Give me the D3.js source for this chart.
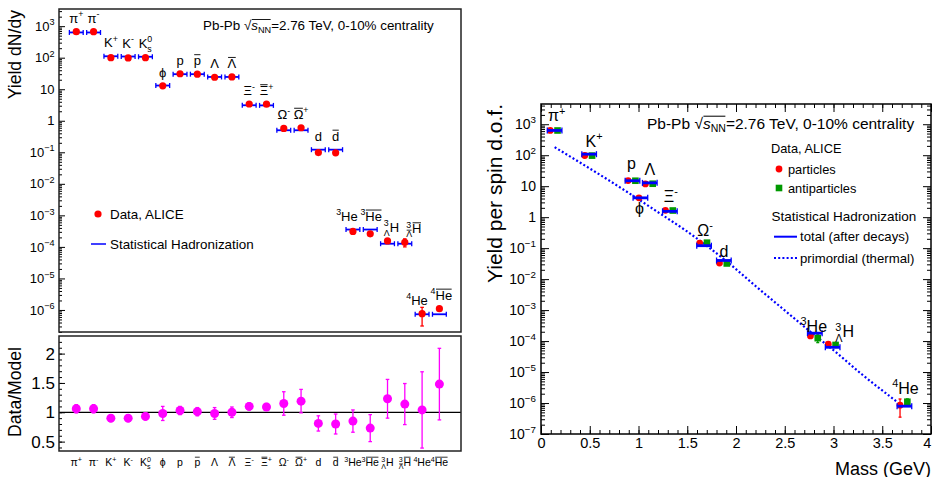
<!DOCTYPE html>
<html>
<head>
<meta charset="utf-8">
<script src="https://cdn.jsdelivr.net/npm/d3@7"></script>
<style>
  body { margin: 0; background: #fff; }
  svg text { font-family: "Liberation Sans", Arial, Helvetica, sans-serif; fill: #000; }
</style>
</head>
<body>
<div id="chart"></div>
<script>
// ---------- left plot: yields per species, 0-10% Pb-Pb ----------
var species = ["pi+", "pi-", "K+", "K-", "K0s", "phi", "p", "pbar", "Lambda", "Lambdabar",
  "Xi-", "Xibar+", "Omega-", "Omegabar+", "d", "dbar", "3He", "3Hebar", "3LH", "3LHbar", "4He", "4Hebar"];
// label parts: [text, kind, overline group, stacked subscript, italic]
var speciesLabels = [
  [["π"], ["+", "sup"]],
  [["π"], ["-", "sup"]],
  [["K"], ["+", "sup"]],
  [["K"], ["-", "sup"]],
  [["K"], ["0", "ss", 0, "s"]],
  [["ϕ"]],
  [["p"]],
  [["p", "n", 1]],
  [["Λ"]],
  [["Λ", "n", 1]],
  [["Ξ"], ["-", "sup"]],
  [["Ξ", "n", 1], ["+", "sup"]],
  [["Ω"], ["-", "sup"]],
  [["Ω", "n", 1], ["+", "sup"]],
  [["d"]],
  [["d", "n", 1]],
  [["3", "sup"], ["He"]],
  [["3", "sup"], ["He", "n", 1]],
  [["3", "ss", 0, "Λ"], ["H"]],
  [["3", "ss", 1, "Λ"], ["H", "n", 2]],
  [["4", "sup"], ["He"]],
  [["4", "sup"], ["He", "n", 1]]
];
var yields = [670, 668, 100, 98, 100, 12.8, 31, 30, 24, 24.5, 3.4, 3.35, 0.57, 0.6, 0.098, 0.096,
  3.1e-4, 2.6e-4, 1.55e-4, 1.4e-4, 7.6e-7, 1.1e-6];
var yieldErr = [25, 25, 6, 6, 6, 1.5, 2.2, 2.2, 2.5, 2.5, 0.2, 0.2, 0.08, 0.08, 0.015, 0.015,
  0.35e-4, 0.6e-4, 0.35e-4, 0.4e-4, 4.5e-7, 2.5e-7];
var modelYields = [632, 630, 111, 109, 107, 13.1, 30, 30, 24.5, 24.5, 3.1, 3.07, 0.5, 0.5, 0.121, 0.121,
  3.55e-4, 3.55e-4, 1.26e-4, 1.26e-4, 7.3e-7, 7.3e-7];
var ratios = [1.06, 1.06, 0.90, 0.90, 0.93, 0.98, 1.03, 1.01, 0.98, 1.0, 1.10, 1.09, 1.15, 1.19,
  0.81, 0.80, 0.85, 0.73, 1.23, 1.14, 1.04, 1.48];
var ratioErr = [0.07, 0.07, 0.06, 0.06, 0.06, 0.12, 0.07, 0.07, 0.1, 0.09, 0.06, 0.06, 0.2, 0.2,
  0.13, 0.17, 0.19, 0.23, 0.33, 0.35, 0.65, 0.61];
var ratioTicks = [0.5, 1, 1.5, 2];

// ---------- right plot: yield per spin d.o.f. vs mass ----------
var massLabels = [
  [["π"], ["+", "sup"]],
  [["K"], ["+", "sup"]],
  [["p"]],
  [["ϕ"]],
  [["Λ"]],
  [["Ξ"], ["-", "sup"]],
  [["Ω"], ["-", "sup"]],
  [["d"]],
  [["3", "sup"], ["He"]],
  [["3", "ss", 0, "Λ"], ["H"]],
  [["4", "sup"], ["He"]]
];
var masses = [0.1396, 0.4937, 0.9383, 1.0195, 1.1157, 1.3217, 1.6725, 1.8756, 2.8084, 2.9913, 3.7274];
var partYield = [630, 98, 15.2, 4.2, 11.8, 1.66, 0.146, 0.033, 1.47e-4, 7.9e-5, 8.5e-7];
var partErr = [0, 0, 0, 0, 0, 0, 0.01, 0.003, 0.1e-4, 0.8e-5, 5e-7];
var antiYield = [628, 97, 15.0, null, 12.0, 1.64, 0.15, 0.032, 1.24e-4, 7.5e-5, 1.1e-6];
var antiErr = [0, 0, 0, null, 0, 0, 0.01, 0.003, 0.35e-4, 1e-5, 2.6e-7];
var totalModel = [630, 108, 15, 4.2, 12.8, 1.54, 0.12, 0.040, 1.8e-4, 6.3e-5, 7.9e-7];
var thermalMass = [0.14, 0.40, 0.67, 0.94, 1.21, 1.49, 1.69, 1.93, 2.20, 2.47, 2.74, 3.02, 3.29, 3.66];
var thermalYield = [182, 58, 17.4, 5.0, 1.38, 0.36, 0.126, 0.032, 6.0e-3, 1.17e-3, 2.3e-4, 4.5e-5, 8.5e-6, 1.05e-6];
var massTicks = [0, 0.5, 1, 1.5, 2, 2.5, 3, 3.5, 4];

var RED = "#ff0000", BLUE = "#0000ff", GREEN = "#009900", MAGENTA = "#ff00ff";

var svg = d3.select("#chart").append("svg").attr("width", 934).attr("height", 477);

// rich text with superscripts, subscripts, stacked indices and overlines
function rich(g, x, y, parts, fs, anchor) {
  var t = g.append("text").attr("x", x).attr("y", y)
    .attr("text-anchor", anchor || "middle").style("font-size", fs + "px");
  var cur = 0, idx = 0, padX = 0, ov = [];
  parts.forEach(function (p) {
    var kind = p[1] || "n", off = 0, size = fs;
    if (kind == "sup" || kind == "ss") { off = -0.42 * fs; size = 0.68 * fs; }
    if (kind == "sub") { off = 0.25 * fs; size = 0.68 * fs; }
    var ts = t.append("tspan").attr("dx", padX).attr("dy", off - cur)
      .style("font-size", size + "px").text(p[0]);
    if (p[4]) ts.style("font-style", "italic");
    padX = 0; cur = off;
    if (kind == "ss") {
      var w1 = ts.node().getComputedTextLength();
      var off2 = 0.3 * fs;
      var ts2 = t.append("tspan").attr("dx", -w1).attr("dy", off2 - cur)
        .style("font-size", size + "px").text(p[3]);
      var w2 = ts2.node().getComputedTextLength();
      padX = Math.max(0, w1 - w2);
      cur = off2;
      if (p[2]) ov.push([idx + p[0].length, p[3].length, p[2]]);
      idx += p[0].length + p[3].length;
    } else {
      if (p[2]) ov.push([idx, p[0].length, p[2]]);
      idx += p[0].length;
    }
  });
  var node = t.node(), lines = {};
  ov.forEach(function (o) {
    for (var i = o[0]; i < o[0] + o[1]; i++) {
      var e = node.getExtentOfChar(i);
      var L = lines[o[2]] || (lines[o[2]] = { x1: 1e9, x2: -1e9, y: 1e9, h: 0 });
      L.x1 = Math.min(L.x1, e.x); L.x2 = Math.max(L.x2, e.x + e.width);
      L.y = Math.min(L.y, e.y + 0.1 * e.height); L.h = Math.max(L.h, e.height);
    }
  });
  Object.keys(lines).forEach(function (k) {
    var L = lines[k];
    g.append("line").attr("x1", L.x1 + 0.5).attr("x2", L.x2 - 0.5)
      .attr("y1", L.y).attr("y2", L.y)
      .attr("stroke", "#000").attr("stroke-width", Math.max(0.8, L.h * 0.06));
  });
  return t;
}

function minorLog(dom) {
  var v = [];
  for (var e = Math.floor(Math.log10(dom[0])); e <= Math.ceil(Math.log10(dom[1])); e++)
    for (var k = 2; k <= 9; k++) {
      var val = k * Math.pow(10, e);
      if (val >= dom[0] && val <= dom[1]) v.push(val);
    }
  return v;
}
function decades(dom) {
  var v = [];
  for (var e = Math.ceil(Math.log10(dom[0]) - 1e-9); e <= Math.floor(Math.log10(dom[1]) + 1e-9); e++) v.push(Math.pow(10, e));
  return v;
}
function clean(g) {
  g.select(".domain").remove();
  g.selectAll(".tick line").attr("stroke", "#000");
}
function logLabels(g, fs) {
  g.selectAll(".tick text").each(function (d) {
    var t = d3.select(this), e = Math.round(Math.log10(d));
    t.text("").style("font-size", fs + "px").attr("fill", "#000");
    if (e == 0) t.text("1");
    else if (e == 1) t.text("10");
    else {
      t.append("tspan").text("10");
      t.append("tspan").attr("dy", -0.42 * fs).style("font-size", (0.7 * fs) + "px")
        .text(e < 0 ? "\u2212" + (-e) : e);
    }
  });
}
function errBar(g, x, y1, y2, color, cap) {
  g.append("line").attr("x1", x).attr("x2", x).attr("y1", y1).attr("y2", y2)
    .attr("stroke", color).attr("stroke-width", 1.3);
  [y1, y2].forEach(function (y) {
    g.append("line").attr("x1", x - cap).attr("x2", x + cap).attr("y1", y).attr("y2", y)
      .attr("stroke", color).attr("stroke-width", 1.3);
  });
}

// ================= LEFT TOP =================
var xL = d3.scaleLinear().domain([0, 23.25]).range([59, 461]);
var yTop = d3.scaleLog().domain([2e-7, 3.5e3]).range([332, 9]);
var gT = svg.append("g");

gT.append("g").attr("transform", "translate(59,0)")
  .call(d3.axisLeft(yTop).tickValues(minorLog(yTop.domain())).tickSize(-3).tickFormat(""))
  .call(clean);
gT.append("g").attr("transform", "translate(59,0)")
  .call(d3.axisLeft(yTop).tickValues(decades(yTop.domain())).tickSize(-6).tickPadding(4.5))
  .call(clean).call(logLabels, 13);

// model lines
species.forEach(function (s, i) {
  var y = yTop(modelYields[i]), xa = xL(i + 1 - 0.4), xb = xL(i + 1 + 0.4);
  gT.append("line").attr("x1", xa).attr("x2", xb).attr("y1", y).attr("y2", y)
    .attr("stroke", BLUE).attr("stroke-width", 1.8);
  [xa, xb].forEach(function (x) {
    gT.append("line").attr("x1", x).attr("x2", x).attr("y1", y - 2.5).attr("y2", y + 2.5)
      .attr("stroke", BLUE).attr("stroke-width", 1.3);
  });
});
// data
species.forEach(function (s, i) {
  var x = xL(i + 1);
  var hi = yTop(yields[i] + yieldErr[i]), lo = yTop(Math.max(yields[i] - yieldErr[i], 1e-9));
  if (lo - hi > 7) errBar(gT, x, hi, lo, RED, 1.8);
  gT.append("circle").attr("cx", x).attr("cy", yTop(yields[i])).attr("r", 3.6).attr("fill", RED);
});
// species labels above the points
var leftLabelDx = { 16: -6, 17: 1, 18: 4, 19: 9, 20: -5, 21: 2 };
species.forEach(function (s, i) {
  var y = Math.min(yTop(yields[i]), yTop(modelYields[i])) - 9;
  rich(gT, xL(i + 1) + (leftLabelDx[i] || 0), y, speciesLabels[i], 13);
});

gT.append("rect").attr("x", 59).attr("y", 9).attr("width", 402).attr("height", 323)
  .attr("fill", "none").attr("stroke", "#222").attr("stroke-width", 1.5);

rich(gT, 203, 30, [["Pb-Pb "], ["√"], ["s", "n", 1, null, true], ["NN", "sub", 1],
  ["=2.76 TeV, 0-10% centrality"]], 13.4, "start");

// legend
gT.append("circle").attr("cx", 98).attr("cy", 214).attr("r", 3.6).attr("fill", RED);
gT.append("text").attr("x", 110).attr("y", 219).style("font-size", "13.4px").text("Data, ALICE");
gT.append("line").attr("x1", 91).attr("x2", 106).attr("y1", 244).attr("y2", 244)
  .attr("stroke", BLUE).attr("stroke-width", 1.5);
gT.append("text").attr("x", 110).attr("y", 249).style("font-size", "13.4px").text("Statistical Hadronization");

gT.append("text").attr("transform", "translate(21,10) rotate(-90)").attr("text-anchor", "end")
  .style("font-size", "17.6px").text("Yield dN/dy");

// ================= LEFT BOTTOM =================
var yRat = d3.scaleLinear().domain([0.34, 2.3]).range([451, 336]);
var gB = svg.append("g");
gB.append("g").attr("transform", "translate(59,0)")
  .call(d3.axisLeft(yRat).tickValues(d3.range(4, 23).map(function (k) { return k / 10; })).tickSize(-3).tickFormat(""))
  .call(clean);
gB.append("g").attr("transform", "translate(59,0)")
  .call(d3.axisLeft(yRat).tickValues(ratioTicks).tickSize(-6).tickPadding(4).tickFormat(d3.format("")))
  .call(clean)
  .call(function (g) { g.selectAll(".tick text").style("font-size", "17px").attr("fill", "#000"); });

gB.append("line").attr("x1", 59).attr("x2", 461).attr("y1", yRat(1)).attr("y2", yRat(1))
  .attr("stroke", "#000").attr("stroke-width", 1.2);
species.forEach(function (s, i) {
  var x = xL(i + 1);
  errBar(gB, x, yRat(Math.min(ratios[i] + ratioErr[i], 2.3)), yRat(Math.max(ratios[i] - ratioErr[i], 0.34)), MAGENTA, 1.8);
  gB.append("circle").attr("cx", x).attr("cy", yRat(ratios[i])).attr("r", 4.5).attr("fill", MAGENTA);
  rich(gB, x, 466, speciesLabels[i], 10.5);
});
gB.append("rect").attr("x", 59).attr("y", 336).attr("width", 402).attr("height", 115)
  .attr("fill", "none").attr("stroke", "#222").attr("stroke-width", 1.5);
gB.append("text").attr("transform", "translate(21,347) rotate(-90)").attr("text-anchor", "end")
  .style("font-size", "17.6px").text("Data/Model");

// ================= RIGHT =================
var xR = d3.scaleLinear().domain([0, 4]).range([541, 931]);
var yR = d3.scaleLog().domain([1e-7, 4.5e3]).range([434, 104]);
var gR = svg.append("g");

var minorX = d3.range(0, 41).map(function (k) { return k / 10; });
gR.append("g").attr("transform", "translate(541,0)")
  .call(d3.axisLeft(yR).tickValues(minorLog(yR.domain())).tickSize(-4).tickFormat("")).call(clean);
gR.append("g").attr("transform", "translate(541,0)")
  .call(d3.axisLeft(yR).tickValues(decades(yR.domain())).tickSize(-8).tickPadding(5))
  .call(clean).call(logLabels, 14);
gR.append("g").attr("transform", "translate(931,0)")
  .call(d3.axisRight(yR).tickValues(minorLog(yR.domain())).tickSize(-4).tickFormat("")).call(clean);
gR.append("g").attr("transform", "translate(931,0)")
  .call(d3.axisRight(yR).tickValues(decades(yR.domain())).tickSize(-8).tickFormat("")).call(clean);
gR.append("g").attr("transform", "translate(0,434)")
  .call(d3.axisBottom(xR).tickValues(minorX).tickSize(-4).tickFormat("")).call(clean);
gR.append("g").attr("transform", "translate(0,434)")
  .call(d3.axisBottom(xR).tickValues(massTicks).tickSize(-8).tickPadding(4).tickFormat(d3.format("")))
  .call(clean)
  .call(function (g) {
    g.selectAll(".tick text").style("font-size", "14.5px").attr("fill", "#000");
    g.selectAll(".tick text").filter(function (d) { return d == 4; }).attr("dx", "-0.3em");
  });
gR.append("g").attr("transform", "translate(0,104)")
  .call(d3.axisTop(xR).tickValues(minorX).tickSize(-4).tickFormat("")).call(clean);
gR.append("g").attr("transform", "translate(0,104)")
  .call(d3.axisTop(xR).tickValues(massTicks).tickSize(-8).tickFormat("")).call(clean);
gR.append("rect").attr("x", 541).attr("y", 104).attr("width", 390).attr("height", 330)
  .attr("fill", "none").attr("stroke", "#000").attr("stroke-width", 1.5);

// primordial (thermal) curve
var thermalLine = d3.line()
  .x(function (d, i) { return xR(thermalMass[i]); })
  .y(function (d) { return yR(d); })
  .curve(d3.curveMonotoneX);
gR.append("path").attr("d", thermalLine(thermalYield)).attr("fill", "none")
  .attr("stroke", BLUE).attr("stroke-width", 2.2).attr("stroke-dasharray", "2,2.2");

// data points
masses.forEach(function (m, i) {
  var xp = xR(m - (antiYield[i] == null ? 0.015 : 0.045));
  if (partErr[i]) {
    var a = yR(partYield[i] + partErr[i]), b = yR(partYield[i] - partErr[i]);
    if (b - a > 5) errBar(gR, xp, a, b, RED, 1.5);
  }
  gR.append("circle").attr("cx", xp).attr("cy", yR(partYield[i])).attr("r", 3.4).attr("fill", RED);
  if (antiYield[i] != null) {
    var xa = xR(m + 0.03);
    if (antiErr[i]) {
      var c = yR(antiYield[i] + antiErr[i]), d = yR(antiYield[i] - antiErr[i]);
      if (d - c > 5) errBar(gR, xa, c, d, GREEN, 1.5);
    }
    gR.append("rect").attr("x", xa - 3.3).attr("y", yR(antiYield[i]) - 3.3)
      .attr("width", 6.6).attr("height", 6.6).attr("fill", GREEN);
  }
});
// total model (after decays)
masses.forEach(function (m, i) {
  var y = yR(totalModel[i]), xa = xR(m - 0.075), xb = xR(m + 0.075);
  gR.append("line").attr("x1", xa).attr("x2", xb).attr("y1", y).attr("y2", y)
    .attr("stroke", BLUE).attr("stroke-width", 2.8);
  [xa, xb].forEach(function (x) {
    gR.append("line").attr("x1", x).attr("x2", x).attr("y1", y - 3).attr("y2", y + 3)
      .attr("stroke", BLUE).attr("stroke-width", 1.3);
  });
});
// species labels
var rightLabelOff = [[2, -9], [5, -7], [-1, -12], [-1, 16.5], [0, -7.6], [1, -9.3], [1, -10],
  [0, -3.2], [-1, -1], [12, -10], [1, -12]];
masses.forEach(function (m, i) {
  rich(gR, xR(m) + rightLabelOff[i][0], yR(totalModel[i]) + rightLabelOff[i][1], massLabels[i], 16);
});

rich(gR, 647, 128.5, [["Pb-Pb "], ["√"], ["s", "n", 1, null, true], ["NN", "sub", 1],
  ["=2.76 TeV, 0-10% centrality"]], 15.5, "start");

// legend
gR.append("text").attr("x", 771).attr("y", 152.5).style("font-size", "12.8px").text("Data, ALICE");
gR.append("circle").attr("cx", 779).attr("cy", 169).attr("r", 3.4).attr("fill", RED);
gR.append("text").attr("x", 788).attr("y", 173.5).style("font-size", "12.8px").text("particles");
gR.append("rect").attr("x", 775.7).attr("y", 184.7).attr("width", 6.6).attr("height", 6.6).attr("fill", GREEN);
gR.append("text").attr("x", 788).attr("y", 192.5).style("font-size", "12.8px").text("antiparticles");
gR.append("text").attr("x", 771.5).attr("y", 221).style("font-size", "13.5px").text("Statistical Hadronization");
gR.append("line").attr("x1", 774).attr("x2", 797).attr("y1", 236.7).attr("y2", 236.7)
  .attr("stroke", BLUE).attr("stroke-width", 2);
gR.append("text").attr("x", 800).attr("y", 241).style("font-size", "13.2px").text("total (after decays)");
gR.append("line").attr("x1", 774).attr("x2", 797).attr("y1", 258).attr("y2", 258)
  .attr("stroke", BLUE).attr("stroke-width", 2.2).attr("stroke-dasharray", "2,2.2");
gR.append("text").attr("x", 800).attr("y", 262.5).style("font-size", "13.2px").text("primordial (thermal)");

// axis titles
gR.append("text").attr("transform", "translate(502,104) rotate(-90)").attr("text-anchor", "end")
  .style("font-size", "21px").text("Yield per spin d.o.f.");
gR.append("text").attr("x", 931).attr("y", 474.5).attr("text-anchor", "end")
  .style("font-size", "18px").text("Mass (GeV)");
</script>
</body>
</html>
